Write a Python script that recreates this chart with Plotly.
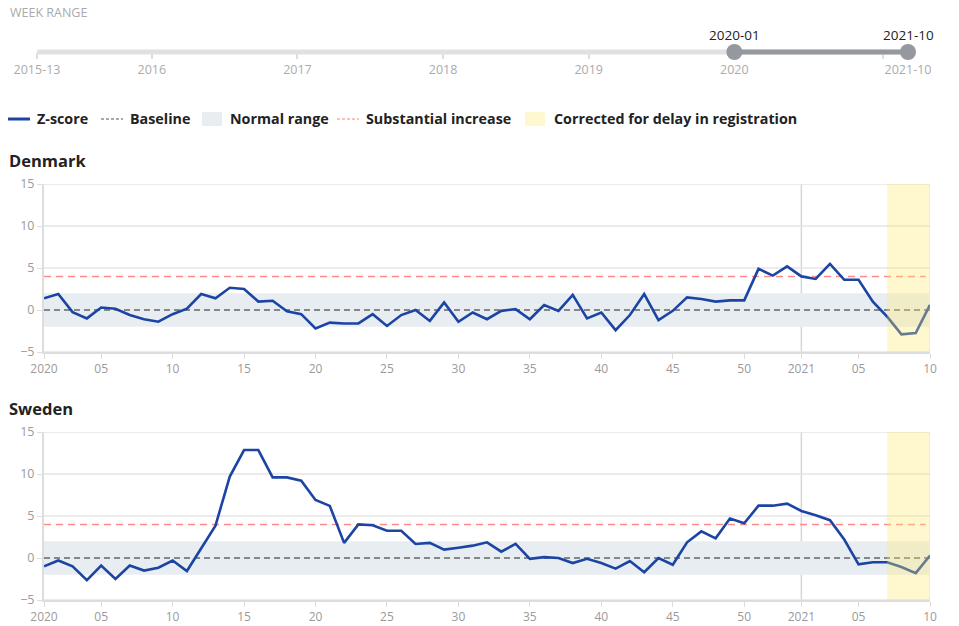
import plotly.graph_objects as go

# ---------------- data ----------------
weeks = [f"2020-{w:02d}" for w in range(1, 54)] + [f"2021-{w:02d}" for w in range(1, 11)]

denmark = [
    1.4, 1.9, -0.25, -1.0, 0.3, 0.15, -0.6, -1.1, -1.4, -0.5,
    0.15, 1.9, 1.4, 2.65, 2.5, 1.0, 1.1, -0.15, -0.5, -2.2,
    -1.5, -1.6, -1.6, -0.5, -1.9, -0.6, 0.0, -1.3, 0.9, -1.4,
    -0.3, -1.1, -0.1, 0.1, -1.1, 0.6, -0.1, 1.8, -1.0, -0.3,
    -2.4, -0.6, 1.9, -1.2, -0.1, 1.5, 1.3, 1.0, 1.15, 1.15,
    4.9, 4.1, 5.2,
    4.0, 3.7, 5.5, 3.6, 3.6, 1.0, -0.8, -2.9, -2.75, 0.6,
]

sweden = [
    -1.0, -0.3, -1.0, -2.65, -0.9, -2.5, -0.9, -1.5, -1.15, -0.3,
    -1.55, 1.2, 3.85, 9.7, 12.85, 12.85, 9.6, 9.6, 9.2, 6.9,
    6.2, 1.8, 4.0, 3.9, 3.25, 3.25, 1.67, 1.8, 1.0, 1.23,
    1.47, 1.87, 0.75, 1.67, -0.1, 0.1, 0.0, -0.6, -0.1, -0.6,
    -1.27, -0.36, -1.7, 0.0, -0.8, 1.87, 3.17, 2.34, 4.7, 4.13,
    6.23, 6.23, 6.47,
    5.6, 5.1, 4.5, 2.2, -0.75, -0.5, -0.5, -1.07, -1.8, 0.3,
]

countries = ["Denmark", "Sweden"]
series = [denmark, sweden]

tick_weeks = ["2020-01", "2020-05", "2020-10", "2020-15", "2020-20", "2020-25",
              "2020-30", "2020-35", "2020-40", "2020-45", "2020-50",
              "2021-01", "2021-05", "2021-10"]
tick_text = ["2020", "05", "10", "15", "20", "25", "30", "35", "40", "45", "50",
             "2021", "05", "10"]
y_ticks = [-5, 5, 10, 15]
y_labels = [-5, 0, 5, 10, 15]

baseline = 0
normal_low, normal_high = -2, 2
substantial = 4
corrected_start, corrected_end = "2021-07", "2021-10"
year_break = "2021-01"

# week range slider
weeks_per_year = {2015: 53, 2016: 52, 2017: 52, 2018: 52, 2019: 52, 2020: 53, 2021: 52}
range_start = (2015, 13)
range_end = (2021, 10)
selected_start = (2020, 1)
selected_end = (2021, 10)
slider_marks = [(2015, 13, "2015-13"), (2016, 1, "2016"), (2017, 1, "2017"),
                (2018, 1, "2018"), (2019, 1, "2019"), (2020, 1, "2020"),
                (2021, 1, ""), (2021, 10, "2021-10")]

# ---------------- styling ----------------
W, H = 959, 626
FONT = "Open Sans"
BLUE = "#1c45a3"
GREY_TXT = "#9a9a9a"
AXIS = "#dddddd"


def px(x):
    return x / W


def py(y):
    return 1 - y / H


def week_index(year, week):
    n = 0
    y, w = range_start
    while y < year:
        n += weeks_per_year[y] - (w - 1)
        y, w = y + 1, 1
    return n + (week - w)


xi = list(range(len(weeks)))
x_first, x_last = xi[0], xi[-1]
fig = go.Figure()

panels = [
    dict(top=184, bottom=352, title_y=160),
    dict(top=432, bottom=600, title_y=408),
]

shapes = []
annotations = []

for k, (name, vals, p) in enumerate(zip(countries, series, panels)):
    xa = "x" if k == 0 else f"x{k + 1}"
    ya = "y" if k == 0 else f"y{k + 1}"
    common = dict(xaxis=xa, yaxis=ya, showlegend=False, hoverinfo="skip")
    # normal range band
    fig.add_trace(go.Scatter(x=[x_first, x_last, x_last, x_first],
                             y=[normal_low, normal_low, normal_high, normal_high],
                             mode="lines", fill="toself", fillcolor="#e8edf2",
                             line=dict(width=0), **common))
    # baseline
    fig.add_trace(go.Scatter(x=[x_first, x_last], y=[baseline, baseline], mode="lines",
                             line=dict(color="#666666", width=1.4, dash="6px,4px"), **common))
    # substantial increase
    fig.add_trace(go.Scatter(x=[x_first, x_last - 0.3], y=[substantial, substantial],
                             mode="lines",
                             line=dict(color="#ff8a8a", width=1.5, dash="7px,5px"), **common))
    # z-score
    fig.add_trace(go.Scatter(
        x=xi, y=vals, mode="lines", name="Z-score", showlegend=False,
        line=dict(color=BLUE, width=2.6), xaxis=xa, yaxis=ya,
        customdata=weeks, hovertemplate="%{customdata}: %{y}<extra></extra>",
    ))
    # year break gridline
    xb = weeks.index(year_break)
    shapes.append(dict(type="line", xref=xa, yref=f"{ya} domain", x0=xb, x1=xb,
                       y0=0, y1=1, line=dict(color="#d6d6d6", width=1.5), layer="below"))
    shapes.append(dict(type="line", xref=xa, yref=f"{ya} domain", x0=x_last, x1=x_last,
                       y0=0, y1=1, line=dict(color="#e2e2e2", width=1), layer="below"))
    # corrected for delay
    shapes.append(dict(type="rect", xref=xa, yref=f"{ya} domain",
                       x0=weeks.index(corrected_start), x1=weeks.index(corrected_end),
                       y0=0, y1=1, fillcolor="rgba(255,235,110,0.33)",
                       line=dict(width=0), layer="above"))
    annotations.append(dict(text=f"<b>{name}</b>", xref="paper", yref="paper",
                            x=px(7), y=py(p["title_y"]), xanchor="left", yanchor="middle",
                            showarrow=False, font=dict(size=16.5, color="#222222", family=FONT)))

    xaxis = dict(domain=[px(44), px(930)], range=[x_first, x_last], anchor=ya,
                 tickmode="array", tickvals=[weeks.index(t) for t in tick_weeks],
                 ticktext=tick_text, ticks="outside", ticklen=5, tickcolor=AXIS,
                 tickwidth=1, showline=True, linecolor=AXIS, linewidth=2,
                 showgrid=False, zeroline=False, fixedrange=True, automargin=False,
                 tickfont=dict(size=12, color=GREY_TXT, family=FONT))
    yaxis = dict(domain=[py(p["bottom"]), py(p["top"])], range=[-5, 15], anchor=xa,
                 tickmode="array", tickvals=y_labels, ticks="outside", ticklen=5,
                 tickcolor=AXIS, showline=True, linecolor=AXIS, linewidth=2,
                 showgrid=False, zeroline=False, fixedrange=True, automargin=False,
                 tickfont=dict(size=12.5, color=GREY_TXT, family=FONT))
    for yv in y_ticks:
        shapes.append(dict(type="line", xref=f"{xa} domain", yref=ya, x0=0, x1=1,
                           y0=yv, y1=yv, line=dict(color="#e4e4e4", width=1.5),
                           layer="below"))
    if k == 0:
        fig.update_layout(xaxis=xaxis, yaxis=yaxis)
    else:
        fig.update_layout(**{f"xaxis{k + 1}": xaxis, f"yaxis{k + 1}": yaxis})

# ---------------- week range slider ----------------
r0 = week_index(*range_start)
r1 = week_index(*range_end)
s0 = week_index(*selected_start)
s1 = week_index(*selected_end)
fig.add_trace(go.Scatter(x=[r0, r1], y=[0, 0], mode="lines", xaxis="x3", yaxis="y3",
                         line=dict(color="#e1e1e1", width=5), showlegend=False,
                         hoverinfo="skip"))
fig.add_trace(go.Scatter(x=[s0, s1], y=[0, 0], mode="lines+markers", xaxis="x3", yaxis="y3",
                         line=dict(color="#96989f", width=5),
                         marker=dict(size=16, color="#96989f"), cliponaxis=False,
                         showlegend=False, hoverinfo="skip"))
for yr, wk in (selected_start, selected_end):
    annotations.append(dict(text=f"{yr}-{wk:02d}", xref="x3", yref="paper",
                            x=week_index(yr, wk), y=py(35), xanchor="center",
                            yanchor="middle", showarrow=False,
                            font=dict(size=13.5, color="#222222", family=FONT)))
fig.update_layout(
    xaxis3=dict(domain=[px(37), px(908)], range=[r0, r1], anchor="free", position=py(52),
                tickmode="array", tickvals=[week_index(y, w) for y, w, _ in slider_marks],
                ticktext=[t for _, _, t in slider_marks], ticks="outside", ticklen=6,
                tickcolor="#dddddd", tickwidth=2, showline=False, showgrid=False,
                zeroline=False, fixedrange=True, layer="below traces", automargin=False,
                tickfont=dict(size=12.5, color="#ababab", family=FONT)),
    yaxis3=dict(domain=[py(62), py(42)], range=[-1, 1], visible=False, anchor="x3",
                fixedrange=True, automargin=False),
)
annotations.append(dict(text="WEEK RANGE", xref="paper", yref="paper", x=px(8), y=py(12),
                        xanchor="left", yanchor="middle", showarrow=False,
                        font=dict(size=12.5, color="#aaaaaa", family=FONT)))

# ---------------- legend ----------------
LEG_Y = 119
legend_items = [
    ("line", BLUE, "solid", 8, 35, "Z-score"),
    ("line", "#555555", "3px,2px", 101, 128, "Baseline"),
    ("box", "#e8edf2", None, 202, 228, "Normal range"),
    ("line", "#ff7f7f", "3px,2px", 337, 364, "Substantial increase"),
    ("box", "#fff8cf", None, 525, 552, "Corrected for delay in registration"),
]
for kind, color, dash, x0, tx, label in legend_items:
    if kind == "line":
        shapes.append(dict(type="line", xref="paper", yref="paper", x0=px(x0), x1=px(x0 + 22),
                           y0=py(LEG_Y), y1=py(LEG_Y),
                           line=dict(color=color, width=3 if dash == "solid" else 1.2, dash=dash)))
    else:
        shapes.append(dict(type="rect", xref="paper", yref="paper", x0=px(x0), x1=px(x0 + 20),
                           y0=py(LEG_Y + 7), y1=py(LEG_Y - 7), fillcolor=color,
                           line=dict(width=0)))
    annotations.append(dict(text=f"<b>{label}</b>", xref="paper", yref="paper", x=px(tx),
                            y=py(LEG_Y), xanchor="left", yanchor="middle", showarrow=False,
                            font=dict(size=14.3, color="#222222", family=FONT)))

fig.update_layout(
    width=W, height=H, autosize=False,
    margin=dict(l=0, r=0, t=0, b=0, autoexpand=False),
    paper_bgcolor="white", plot_bgcolor="white",
    showlegend=False, shapes=shapes, annotations=annotations,
    font=dict(family=FONT),
)

fig.write_html("out.html", config={"displayModeBar": False},
               post_script="document.body.style.margin='0';")
